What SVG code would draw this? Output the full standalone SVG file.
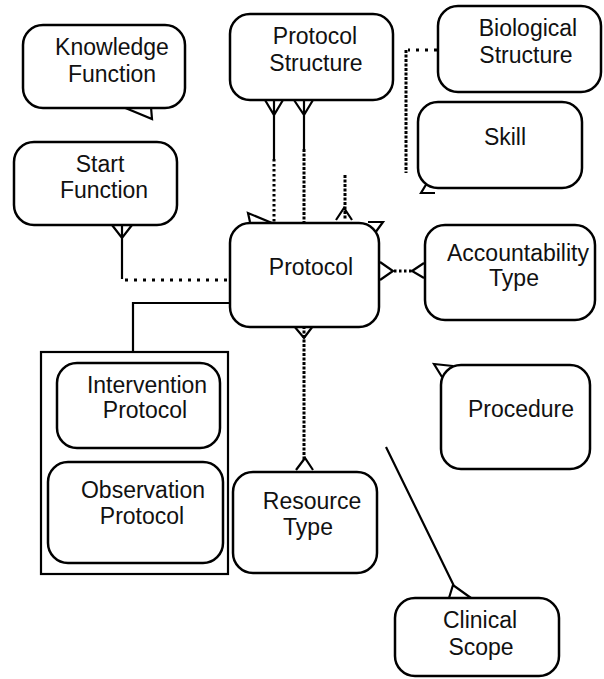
<svg xmlns="http://www.w3.org/2000/svg" width="604" height="679" viewBox="0 0 604 679">
<style>
.box{fill:#fff;stroke:#000;stroke-width:2.5}
.t{font-family:"Liberation Sans",Arial,sans-serif;font-size:23px;fill:#111;text-anchor:middle}
.ln{fill:none;stroke:#000;stroke-width:2.2}
.sp{fill:none;stroke:#000;stroke-width:3;stroke-dasharray:3 6}
.dd{fill:none;stroke:#000;stroke-width:3;stroke-dasharray:3 1.5}
.md{fill:none;stroke:#000;stroke-width:3;stroke-dasharray:2.5 2.5}
</style>
<rect width="604" height="679" fill="#fff"/>
<g id="connectors">
  <!-- Start Function to Protocol -->
  <path class="ln" d="M112,225 L122,238 L132,225 M122,225 V279"/>
  <path class="sp" d="M125,280 H230"/>
  <!-- Protocol to container -->
  <path class="ln" d="M230,303 H133 V352"/>
  <!-- Protocol Structure connectors -->
  <path class="ln" d="M265,100 L274,115 L283,100 M274,100 V159"/>
  <path class="md" d="M274,159 V225"/>
  <path class="ln" d="M294,100 L304,115 L313,100 M304,100 V149"/>
  <path class="dd" d="M304,149 V225"/>
  <path class="dd" d="M345,175 V220"/>
  <path class="ln" d="M336,220 L344,208 L352,220"/>
  <path class="ln" d="M272,223 L248,213 L250,222"/>
  <path class="ln" d="M368,222 H383 L375,233"/>
  <!-- Biological Structure -->
  <path class="sp" d="M437,50 H408"/>
  <path class="dd" d="M406,50 V173"/>
  <!-- Skill tail -->
  <path class="ln" d="M427,183 L421,193 H435"/>
  <!-- Protocol to Accountability -->
  <path class="ln" d="M380,262 L393,271 L380,280"/>
  <path class="md" d="M394,271 H412"/>
  <path class="ln" d="M424,263 L412,271 L424,278"/>
  <!-- Protocol to Resource Type -->
  <path class="ln" d="M294,326 L304,338 L313,326"/>
  <path class="dd" d="M304,326 V460"/>
  <path class="ln" d="M296,470 L305,458 L313,470"/>
  <!-- Procedure tail -->
  <path class="ln" d="M453,366 L434,364 L442,377"/>
  <!-- Clinical Scope -->
  <path class="ln" d="M386,447 L454,586 M449,598 L453,585 L471,598"/>
  <!-- Knowledge tail -->
  <path class="ln" d="M123,107 L152,119 L151,107"/>
</g>
<g id="knowledge-function">
  <rect class="box" x="23" y="25" width="162" height="83" rx="20"/>
  <text class="t" x="112" y="55">Knowledge</text>
  <text class="t" x="112" y="82">Function</text>
</g>
<g id="protocol-structure">
  <rect class="box" x="230" y="14" width="163" height="86" rx="20"/>
  <text class="t" x="315" y="44">Protocol</text>
  <text class="t" x="316" y="71">Structure</text>
</g>
<g id="biological-structure">
  <rect class="box" x="438" y="6" width="163" height="86" rx="20"/>
  <text class="t" x="528" y="36">Biological</text>
  <text class="t" x="526" y="63">Structure</text>
</g>
<g id="skill">
  <rect class="box" x="418" y="102" width="164" height="86" rx="20"/>
  <text class="t" x="505" y="145">Skill</text>
</g>
<g id="start-function">
  <rect class="box" x="14" y="142" width="163" height="83" rx="20"/>
  <text class="t" x="100" y="172">Start</text>
  <text class="t" x="104" y="198">Function</text>
</g>
<g id="protocol">
  <rect class="box" x="230" y="223" width="149" height="104" rx="20"/>
  <text class="t" x="311" y="275">Protocol</text>
</g>
<g id="accountability-type">
  <rect class="box" x="425" y="225" width="170" height="95" rx="20"/>
  <text class="t" x="518" y="261">Accountability</text>
  <text class="t" x="514" y="286">Type</text>
</g>
<g id="protocol-subtypes">
  <rect x="41" y="352" width="187" height="222" fill="#fff" stroke="#000" stroke-width="2.2"/>
</g>
<g id="intervention-protocol">
  <rect class="box" x="57" y="363" width="163" height="85" rx="20"/>
  <text class="t" x="147" y="393">Intervention</text>
  <text class="t" x="145" y="418">Protocol</text>
</g>
<g id="observation-protocol">
  <rect class="box" x="48" y="462" width="175" height="101" rx="20"/>
  <text class="t" x="143" y="498">Observation</text>
  <text class="t" x="142" y="524">Protocol</text>
</g>
<g id="procedure">
  <rect class="box" x="441" y="365" width="149" height="104" rx="20"/>
  <text class="t" x="521" y="417">Procedure</text>
</g>
<g id="resource-type">
  <rect class="box" x="233" y="472" width="144" height="101" rx="20"/>
  <text class="t" x="312" y="509">Resource</text>
  <text class="t" x="308" y="535">Type</text>
</g>
<g id="clinical-scope">
  <rect class="box" x="395" y="598" width="164" height="78" rx="20"/>
  <text class="t" x="480" y="628">Clinical</text>
  <text class="t" x="481" y="655">Scope</text>
</g>
</svg>
